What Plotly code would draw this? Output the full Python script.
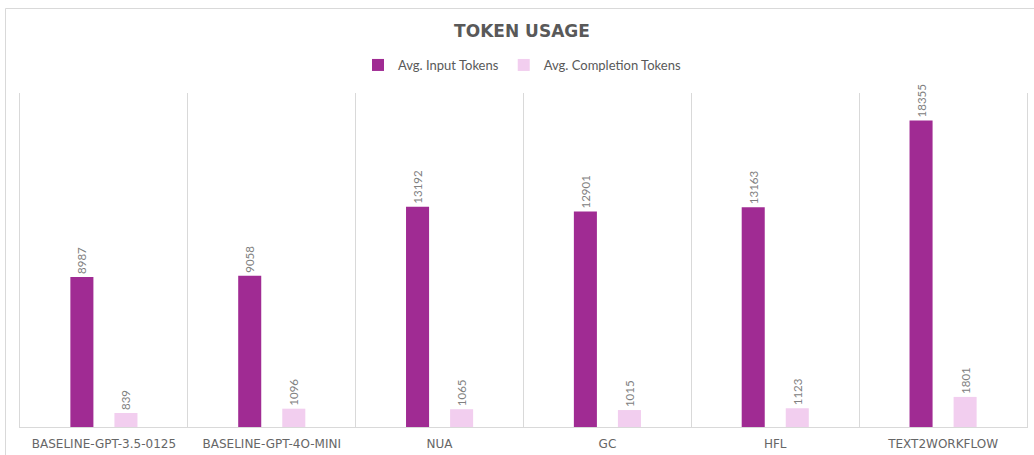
import plotly.graph_objects as go

categories = ["BASELINE-GPT-3.5-0125", "BASELINE-GPT-4O-MINI", "NUA", "GC", "HFL", "TEXT2WORKFLOW"]
input_tokens = [8987, 9058, 13192, 12901, 13163, 18355]
completion_tokens = [839, 1096, 1065, 1015, 1123, 1801]
series_names = ["Avg. Input Tokens", "Avg. Completion Tokens"]

W, H = 1034, 455
L, R, T, B = 20, 7, 93, 28

fig = go.Figure()
fig.add_trace(go.Bar(
    x=categories, y=input_tokens, name=series_names[0],
    marker=dict(color="#A02B93", line=dict(width=0)),
    text=input_tokens, textposition="outside", textangle=-90,
    constraintext="none",
    textfont=dict(family="Lato", size=11.5, color="#808080"),
    cliponaxis=False,
))
fig.add_trace(go.Bar(
    x=categories, y=completion_tokens, name=series_names[1],
    marker=dict(color="#F2CEEF", line=dict(width=0)),
    text=completion_tokens, textposition="outside", textangle=-90,
    constraintext="none",
    textfont=dict(family="Lato", size=11.5, color="#808080"),
    cliponaxis=False,
))

pw = W - L - R
ph = H - T - B
fig.update_layout(
    width=W, height=H,
    margin=dict(l=L, r=R, t=T, b=B, pad=0),
    paper_bgcolor="white", plot_bgcolor="white",
    barmode="group", bargap=0.475, bargroupgap=0.477,
    title=dict(text="<b>TOKEN USAGE</b>", x=(522) / W, xanchor="center",
               y=1 - 31 / H, yanchor="middle",
               font=dict(family="DejaVu Sans", size=17, color="#595959")),
    legend=dict(orientation="h", x=(522 - L) / pw, xanchor="center",
                y=1 + (T - 65) / ph, yanchor="middle",
                font=dict(family="Lato", size=13, color="#595959"),
                itemwidth=30, traceorder="normal"),
    xaxis=dict(type="category", tickson="boundaries", showgrid=True,
               gridcolor="#d9d9d9", gridwidth=1, showline=True,
               linecolor="#d9d9d9", linewidth=1, ticks="",
               ticklabelstandoff=6, automargin=False,
               tickfont=dict(family="DejaVu Sans", size=12, color="#666666"),
               range=[-0.5, 5.5], zeroline=False),
    yaxis=dict(range=[0, 20000], showgrid=False, showticklabels=False,
               showline=True, linecolor="#d9d9d9", linewidth=1, mirror=True,
               zeroline=False, ticks="", automargin=False),
    shapes=[dict(type="rect", xref="paper", yref="paper",
                 x0=(5.5 - L) / pw, x1=1.2,
                 y0=-0.3, y1=1 + (T - 8.5) / ph,
                 line=dict(color="#d9d9d9", width=1), fillcolor="rgba(0,0,0,0)",
                 layer="below")],
)

fig.write_html("out.html", config={"displayModeBar": False},
               post_script="document.body.style.margin='0';document.body.style.overflow='hidden';")
